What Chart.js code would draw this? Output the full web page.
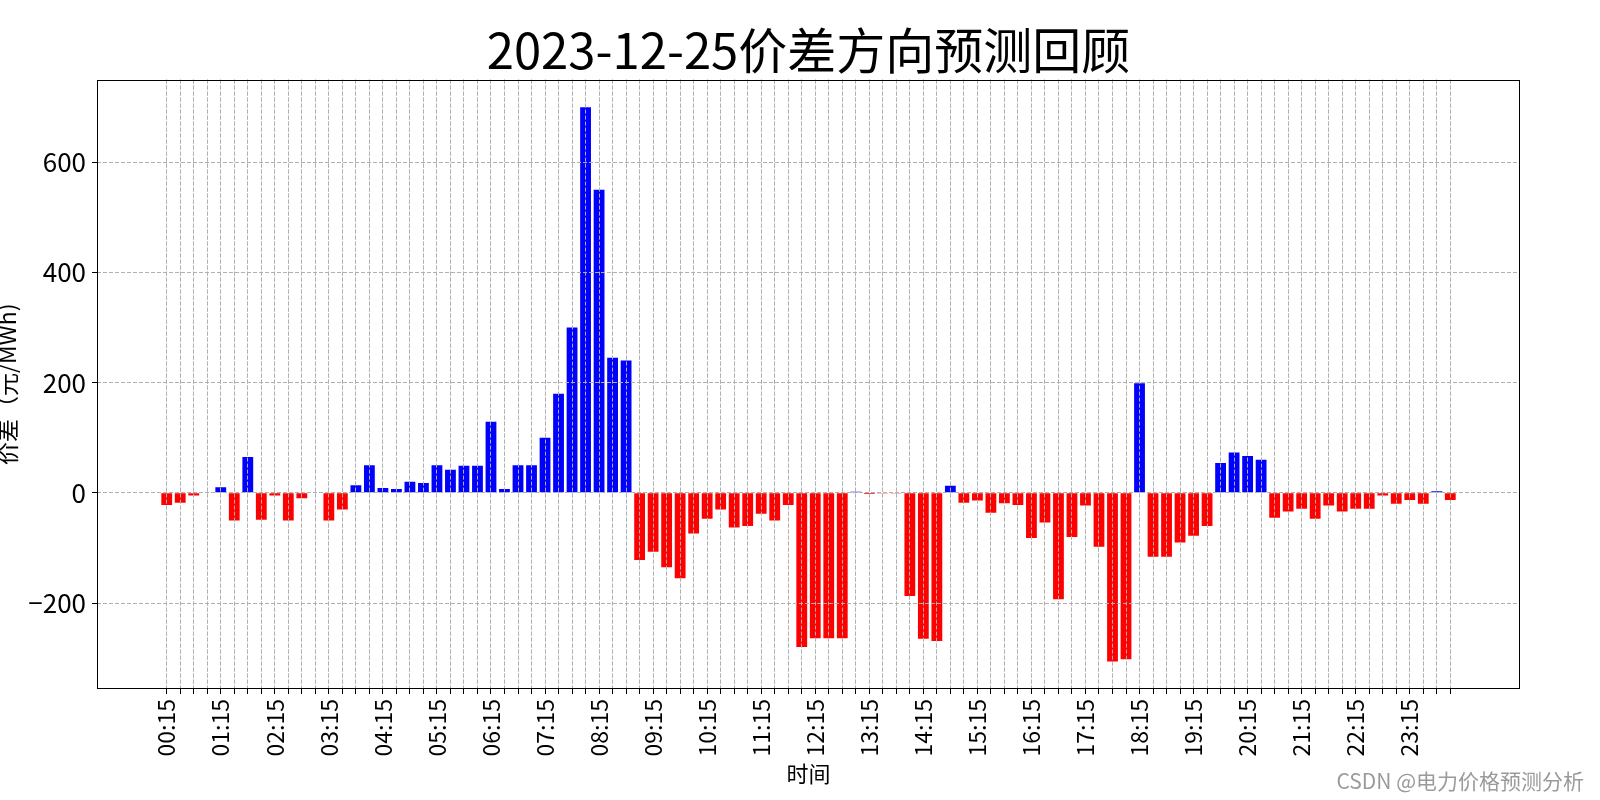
<!DOCTYPE html>
<html>
<head>
<meta charset="utf-8">
<script src="https://cdn.jsdelivr.net/npm/chart.js@4.4.1/dist/chart.umd.min.js"></script>
<style>
  html, body { margin: 0; padding: 0; background: #fff; }
  #wrap { width: 1600px; height: 800px; }
</style>
</head>
<body>
<div id="wrap"><canvas id="c" width="1600" height="800"></canvas></div>
<script>
const chartTitle = '2023-12-25价差方向预测回顾';
const xTitle = '时间';
const yTitle = '价差（元/MWh)';
const watermark = 'CSDN @电力价格预测分析';

const categories = [
  '00:15','00:30','00:45','01:00','01:15','01:30','01:45','02:00',
  '02:15','02:30','02:45','03:00','03:15','03:30','03:45','04:00',
  '04:15','04:30','04:45','05:00','05:15','05:30','05:45','06:00',
  '06:15','06:30','06:45','07:00','07:15','07:30','07:45','08:00',
  '08:15','08:30','08:45','09:00','09:15','09:30','09:45','10:00',
  '10:15','10:30','10:45','11:00','11:15','11:30','11:45','12:00',
  '12:15','12:30','12:45','13:00','13:15','13:30','13:45','14:00',
  '14:15','14:30','14:45','15:00','15:15','15:30','15:45','16:00',
  '16:15','16:30','16:45','17:00','17:15','17:30','17:45','18:00',
  '18:15','18:30','18:45','19:00','19:15','19:30','19:45','20:00',
  '20:15','20:30','20:45','21:00','21:15','21:30','21:45','22:00',
  '22:15','22:30','22:45','23:00','23:15','23:30','23:45','24:00'
];

const priceDiff = [
  -22, -18, -5, 0, 10, -50, 65, -49,
  -5, -50, -10, 0, -50, -30, 14, 50,
  9, 7, 20, 18, 50, 42, 49, 49,
  129, 7, 50, 50, 100, 180, 300, 700,
  550, 245, 240, -122, -107, -135, -155, -74,
  -47, -30, -63, -60, -38, -50, -22, -280,
  -264, -264, -264, 2, -2, -1, -1, -187,
  -265, -269, 13, -18, -14, -36, -19, -22,
  -82, -54, -193, -80, -23, -98, -306, -302,
  199, -116, -116, -90, -78, -60, 54, 73,
  67, 60, -45, -34, -29, -47, -23, -34,
  -29, -29, -5, -20, -13, -20, 3, -13
];

const xTickLabels = [
  '00:15','01:15','02:15','03:15','04:15','05:15','06:15','07:15',
  '08:15','09:15','10:15','11:15','12:15','13:15','14:15','15:15',
  '16:15','17:15','18:15','19:15','20:15','21:15','22:15','23:15'
];
const yTickValues = [-200, 0, 200, 400, 600];

const FONT = '"Noto Sans CJK SC", "Noto Sans", sans-serif';
const upColor = '#0000ff';
const downColor = '#ff0000';

const points = priceDiff.map((v, i) => ({ x: i, y: v }));
const colors = priceDiff.map(v => (v >= 0 ? upColor : downColor));

const gridOnTopPlugin = {
  id: 'gridOnTop',
  afterDatasetsDraw(chart) {
    const area = chart.chartArea;
    ['x', 'y'].forEach(id => {
      const s = chart.scales[id];
      if (s && typeof s.drawGrid === 'function') s.drawGrid(area);
    });
  }
};

const framePlugin = {
  id: 'frame',
  afterDraw(chart) {
    const { ctx, chartArea: a } = chart;
    ctx.save();
    ctx.strokeStyle = '#000';
    ctx.lineWidth = 1;
    ctx.setLineDash([]);
    ctx.strokeRect(Math.round(a.left) + 0.5, Math.round(a.top) + 0.5,
                   Math.round(a.right - a.left) - 1, Math.round(a.bottom - a.top) - 1);
    ctx.font = '21px ' + FONT;
    ctx.fillStyle = '#9a9a9a';
    ctx.textAlign = 'right';
    ctx.textBaseline = 'middle';
    ctx.fillText(watermark, 1584, 781);
    ctx.restore();
  }
};

const gridOpts = {
  offset: false,
  color: '#b0b0b0',
  lineWidth: 1,
  drawTicks: true,
  tickColor: '#000',
  tickLength: 5,
  tickWidth: 1
};

new Chart(document.getElementById('c'), {
  type: 'bar',
  data: {
    datasets: [{
      data: points,
      backgroundColor: colors,
      borderWidth: 0,
      barPercentage: 0.8,
      categoryPercentage: 1.0
    }]
  },
  options: {
    responsive: false,
    animation: false,
    layout: { padding: { left: 0, right: 80, top: 0, bottom: 0 } },
    plugins: {
      legend: { display: false },
      tooltip: { enabled: false },
      title: {
        display: true,
        text: chartTitle,
        color: '#000',
        fullSize: false,
        font: { family: FONT, size: 49, weight: 'normal', lineHeight: 1 },
        padding: { top: 26, bottom: 4.6 }
      }
    },
    scales: {
      x: {
        type: 'linear',
        min: -5.16,
        max: 100.16,
        offset: false,
        afterBuildTicks: s => { s.ticks = categories.map((_, i) => ({ value: i })); },
        afterFit: s => { s.height = 111; },
        grid: gridOpts,
        border: { display: false, dash: [4, 2] },
        ticks: {
          autoSkip: false,
          minRotation: 90,
          maxRotation: 90,
          padding: 5,
          color: '#000',
          font: { family: FONT, size: 23 },
          callback: (value) => {
            const i = Math.round(value);
            return (i % 4 === 0) ? xTickLabels[i / 4] : '';
          }
        },
        title: {
          display: true,
          text: xTitle,
          color: '#000',
          font: { family: FONT, size: 22, lineHeight: 1.2 },
          padding: { top: 0, bottom: 13 }
        }
      },
      y: {
        type: 'linear',
        min: -356,
        max: 750,
        afterBuildTicks: s => { s.ticks = yTickValues.map(v => ({ value: v })); },
        afterFit: s => { s.width = 97; },
        grid: gridOpts,
        border: { display: false, dash: [4, 2] },
        ticks: {
          padding: 6,
          color: '#000',
          font: { family: FONT, size: 26 },
          callback: v => (v < 0 ? '\u2212' + Math.abs(v) : String(v))
        },
        title: {
          display: true,
          text: yTitle,
          color: '#000',
          font: { family: FONT, size: 23, lineHeight: 1 },
          padding: { top: -4, bottom: 0 }
        }
      }
    }
  },
  plugins: [gridOnTopPlugin, framePlugin]
});
</script>
</body>
</html>
